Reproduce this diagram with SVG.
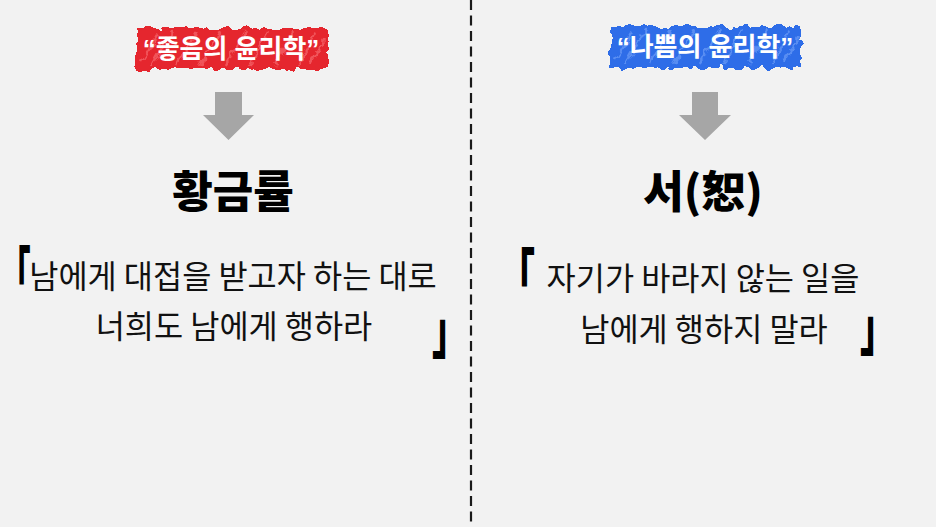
<svg xmlns="http://www.w3.org/2000/svg" width="936" height="527" viewBox="0 0 936 527">
<style>
.lbl{font-family:"Liberation Sans","Noto Sans CJK KR",sans-serif;font-weight:700;font-size:26px;fill:#fff;text-anchor:middle}
.ttl{font-family:"Noto Sans CJK KR",sans-serif;font-weight:900;font-size:44px;fill:#000;text-anchor:middle}
.body{font-family:"Noto Sans CJK KR",sans-serif;font-weight:400;font-size:31.7px;fill:#111;text-anchor:middle}
.brk{font-family:"Noto Sans CJK KR",sans-serif;font-weight:900;font-size:36px;fill:#000}
.arrow{fill:#a6a6a6}
.tex{fill:none;stroke-width:2.5;opacity:0.45}
</style>
<defs>
<filter id="rough" x="-10%" y="-30%" width="120%" height="160%">
<feTurbulence type="fractalNoise" baseFrequency="0.12" numOctaves="2" seed="3" result="n"/>
<feDisplacementMap in="SourceGraphic" in2="n" scale="10" xChannelSelector="R" yChannelSelector="G"/>
</filter>
<path id="texture" d="M142,62 L158,34 M152,66 L172,31 M178,65 L196,32 M200,66 L220,31 M226,65 L246,31 M250,66 L268,32 M274,65 L294,31 M298,66 L316,33 M310,64 L324,40"/>
</defs>
<rect x="0" y="0" width="936" height="527" fill="#f2f2f2"/>

<g id="connectors">
<line x1="471" y1="0" x2="471" y2="527" stroke="#1a1a1a" stroke-width="2.2" stroke-dasharray="10 5.5"/>
<path class="arrow" d="M215,92 H242 V115 H254 L228.5,140 L203,115 H215 Z"/>
<path class="arrow" d="M692,92 H718 V115 H731 L705,140 L679,115 H692 Z"/>
</g>

<g id="label-good">
<rect x="136" y="28" width="192" height="41" fill="#e5262d" filter="url(#rough)"/>
<use href="#texture" class="tex" stroke="#ff8d90" filter="url(#rough)"/>
<text class="lbl" x="231" y="58">“좋음의 윤리학”</text>
</g>

<g id="label-bad">
<rect x="610" y="26" width="191" height="42" fill="#2f6de8" filter="url(#rough)"/>
<use href="#texture" class="tex" stroke="#8fb6ff" filter="url(#rough)" transform="translate(474,-2)"/>
<text class="lbl" x="705" y="56">“나쁨의 윤리학”</text>
</g>

<g id="title-golden">
<text class="ttl" x="233" y="208">황금률</text>
</g>

<g id="title-seo">
<text class="ttl" x="703" y="208">서(恕)</text>
</g>

<g id="quote-left">
<text class="brk" transform="translate(0,298) scale(0.85,1.7)">「</text>
<text class="body" x="233" y="288">남에게 대접을 받고자 하는 대로</text>
<text class="body" x="234" y="338">너희도 남에게 행하라</text>
<text class="brk" transform="translate(432,353) scale(1,1.7)">」</text>
</g>

<g id="quote-right">
<text class="brk" transform="translate(499,300) scale(1,1.7)">「</text>
<text class="body" x="703" y="290">자기가 바라지 않는 일을</text>
<text class="body" x="704" y="341">남에게 행하지 말라</text>
<text class="brk" transform="translate(860,350) scale(1,1.7)">」</text>
</g>
</svg>
